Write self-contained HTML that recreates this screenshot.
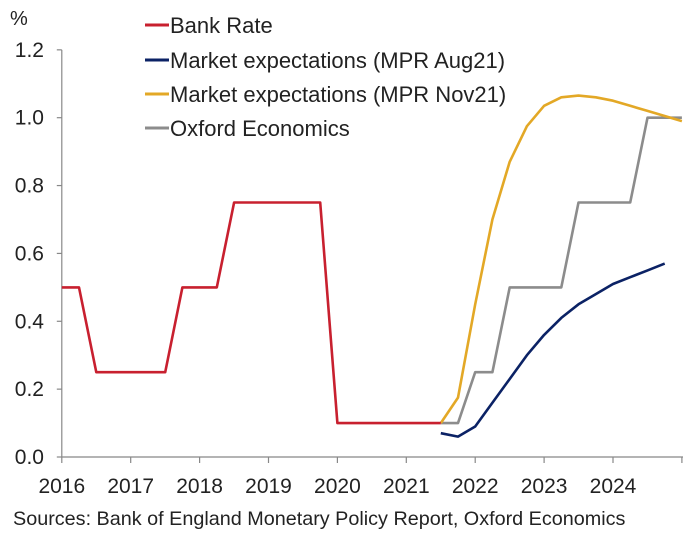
<!DOCTYPE html>
<html><head><meta charset="utf-8"><style>
html,body{margin:0;padding:0;background:#fff;}
svg text{font-family:"Liberation Sans",Arial,sans-serif;fill:#222;}
</style></head><body>
<svg id="chart" width="684" height="535" viewBox="0 0 684 535" xmlns="http://www.w3.org/2000/svg">
<g id="axes"></g>
<g id="series"></g>
<g id="legend"></g>
<text x="13" y="525" font-size="19.8">Sources: Bank of England Monetary Policy Report, Oxford Economics</text>
<text x="10" y="25" font-size="20">%</text>
</svg>
<script>
const yearTicks = [2016,2017,2018,2019,2020,2021,2022,2023,2024];
const yTicks = [0,0.2,0.4,0.6,0.8,1.0,1.2];
const bankDates = [2016,2016.25,2016.5,2016.75,2017,2017.25,2017.5,2017.75,2018,2018.25,2018.5,2018.75,2019,2019.25,2019.5,2019.75,2020,2020.25,2020.5,2020.75,2021,2021.25,2021.5];
const bankRate = [0.5,0.5,0.25,0.25,0.25,0.25,0.25,0.5,0.5,0.5,0.75,0.75,0.75,0.75,0.75,0.75,0.1,0.1,0.1,0.1,0.1,0.1,0.1];
const fcDates = [2021.5,2021.75,2022,2022.25,2022.5,2022.75,2023,2023.25,2023.5,2023.75,2024,2024.25,2024.5,2024.75,2025];
const aug21 = [0.07,0.06,0.09,0.16,0.23,0.30,0.36,0.41,0.45,0.48,0.51,0.53,0.55,0.57];
const nov21 = [0.1,0.175,0.45,0.70,0.87,0.975,1.035,1.06,1.065,1.06,1.05,1.035,1.02,1.005,0.99];
const oxford = [0.1,0.1,0.25,0.25,0.5,0.5,0.5,0.5,0.75,0.75,0.75,0.75,1.0,1.0,1.0];
const legendLabels = ["Bank Rate","Market expectations (MPR Aug21)","Market expectations (MPR Nov21)","Oxford Economics"];
const colors = ["#c8202f","#0b2265","#e3a826","#8c8c8c"];

const NS="http://www.w3.org/2000/svg";
const X0=61.8, PXY=68.9, Y0=457, PXV=339.3;
const xs=d=>X0+(d-2016)*PXY;
const ys=v=>Y0-v*PXV;
function mk(tag,attrs,parent){const e=document.createElementNS(NS,tag);for(const k in attrs)e.setAttribute(k,attrs[k]);parent.appendChild(e);return e;}
const axes=document.getElementById('axes');
let a=mk('line',{x1:X0,y1:ys(1.2),x2:X0,y2:Y0,stroke:'#888','stroke-width':1.2},axes);


a=mk('line',{x1:X0,y1:Y0,x2:683,y2:Y0,stroke:'#888','stroke-width':1.2},axes);


yTicks.forEach(v=>{
  const t=mk('line',{x1:X0-5,y1:ys(v),x2:X0,y2:ys(v),stroke:'#888','stroke-width':1.2},axes);
  
  
  const l=mk('text',{x:44,y:ys(v)+7,'font-size':21,'text-anchor':'end'},axes);
  l.textContent=v.toFixed(1);
  
  
});
yearTicks.concat([2025]).forEach(y=>{
  const t=mk('line',{x1:xs(y),y1:Y0,x2:xs(y),y2:Y0+6,stroke:'#888','stroke-width':1.2},axes);
  
  
});
yearTicks.forEach(y=>{
  const l=mk('text',{x:xs(y),y:493,'font-size':21,'text-anchor':'middle'},axes);
  l.textContent=y;
  
  
});
const series=document.getElementById('series');
function line(dates,vals,color,name){
  const pts=vals.map((v,i)=>xs(dates[i]).toFixed(1)+','+ys(v).toFixed(1)).join(' ');
  const p=mk('polyline',{points:pts,fill:'none',stroke:color,'stroke-width':2.6,'stroke-linejoin':'round'},series);
  
  
}
line(fcDates,oxford,colors[3],'oxford-economics-line');
line(fcDates,nov21,colors[2],'nov21-expectations-line');
line(fcDates.slice(0,aug21.length),aug21,colors[1],'aug21-expectations-line');
line(bankDates,bankRate,colors[0],'bank-rate-line');
const leg=document.getElementById('legend');
const ly=[25,60,94,128];
legendLabels.forEach((s,i)=>{
  const g=mk('g',{},leg);
  
  
  mk('line',{x1:145,y1:ly[i],x2:169,y2:ly[i],stroke:colors[i],'stroke-width':3},g);
  const t=mk('text',{x:170,y:ly[i]+8,'font-size':22},g);
  t.textContent=s;
});
</script>
</body></html>
